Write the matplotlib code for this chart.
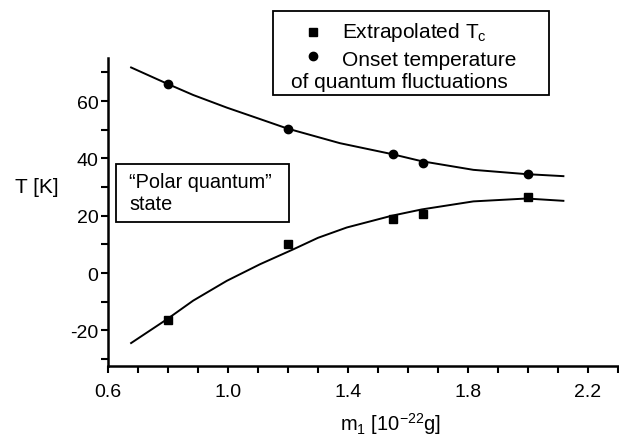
import numpy as np
import matplotlib
matplotlib.use("Agg")
from matplotlib import pyplot as plt
from matplotlib.patches import Rectangle
from matplotlib.lines import Line2D
from matplotlib.ticker import MultipleLocator

plt.rcParams['font.family'] = ['Liberation Sans', 'DejaVu Sans']
plt.rcParams['mathtext.fontset'] = 'custom'
plt.rcParams['mathtext.rm'] = 'Liberation Sans'
plt.rcParams['mathtext.it'] = 'Liberation Sans:italic'
plt.rcParams['axes.unicode_minus'] = False

# measured points
m_vals = [0.8, 1.2, 1.55, 1.65, 2.0]
t_onset = [66.0, 50.3, 41.4, 38.3, 34.5]
t_c = [-16.2, 10.1, 18.8, 20.7, 26.6]

# fitted curves
fit_m_up = [0.677, 0.798, 0.884, 0.996, 1.107, 1.198, 1.373, 1.546, 1.646, 1.818, 1.995, 2.118]
fit_t_up = [71.7, 66.0, 62.1, 57.7, 53.7, 50.4, 45.3, 41.5, 39.0, 36.0, 34.5, 33.8]
fit_m_low = [0.677, 0.798, 0.884, 0.996, 1.107, 1.218, 1.30, 1.396, 1.546, 1.646, 1.818, 1.995, 2.118]
fit_t_low = [-24.4, -16.0, -9.6, -2.7, 3.1, 8.3, 12.3, 15.9, 20.0, 22.2, 25.0, 26.0, 25.2]

xticks = [0.6, 1.0, 1.4, 1.8, 2.2]
yticks = [-20, 0, 20, 40, 60]

W, H = 619, 439
fig = plt.figure(figsize=(W / 100, H / 100), dpi=100)
ax = fig.add_axes([108 / W, 1 - 367 / H, (W - 108) / W, (367 - 59) / H])

ax.plot(fit_m_up, fit_t_up, color='black', lw=1.4)
ax.plot(fit_m_low, fit_t_low, color='black', lw=1.4)
ax.plot(m_vals, t_onset, 'o', color='black', ms=6)
ax.plot(m_vals, t_c, 's', color='black', ms=6)

ax.set_xlim(0.6, 0.6 + (W - 108) / 300)
ax.set_ylim(-32.4, 75)
ax.set_xticks(xticks)
ax.set_xticklabels([f'{v:.1f}' for v in xticks])
ax.set_yticks(yticks)
ax.xaxis.set_minor_locator(MultipleLocator(0.1))
ax.yaxis.set_minor_locator(MultipleLocator(10))
for s in ['top', 'right']:
    ax.spines[s].set_visible(False)
for s in ['left', 'bottom']:
    ax.spines[s].set_linewidth(1.8)
ax.tick_params(which='both', direction='out', length=5, width=1.5, labelsize=14)
ax.tick_params(axis='x', pad=7)
ax.tick_params(axis='y', pad=2)

fig.text(15 / W, 1 - 188 / H, 'T [K]', fontsize=15, va='center', ha='left')
fig.text(340 / W, 1 - 424 / H, 'm$_1$ [10$^{-22}$g]', fontsize=14.5, va='center', ha='left')

# "Polar quantum" box
fig.patches.append(Rectangle((116 / W, 1 - 223 / H), (289 - 116) / W, (223 - 165) / H,
                             transform=fig.transFigure, fill=False, lw=1.3, ec='black'))
fig.text(129 / W, 1 - 183 / H, '\u201cPolar quantum\u201d', fontsize=14.3, va='center')
fig.text(129 / W, 1 - 205 / H, 'state', fontsize=14.3, va='center')

# legend box
fig.patches.append(Rectangle((273 / W, 1 - 96 / H), (549 - 273) / W, (96 - 12) / H,
                             transform=fig.transFigure, fill=False, lw=1.3, ec='black'))
fig.lines.append(Line2D([313 / W], [1 - 33 / H], marker='s', ms=6, color='black',
                        transform=fig.transFigure))
fig.lines.append(Line2D([313 / W], [1 - 57 / H], marker='o', ms=6, color='black',
                        transform=fig.transFigure))
fig.text(342 / W, 1 - 33 / H, 'Extrapolated T$_\\mathrm{c}$', fontsize=15, va='center')
fig.text(342 / W, 1 - 60 / H, 'Onset temperature', fontsize=15, va='center')
fig.text(291 / W, 1 - 83 / H, 'of quantum fluctuations', fontsize=15, va='center')

fig.savefig('out.png', dpi=100)
